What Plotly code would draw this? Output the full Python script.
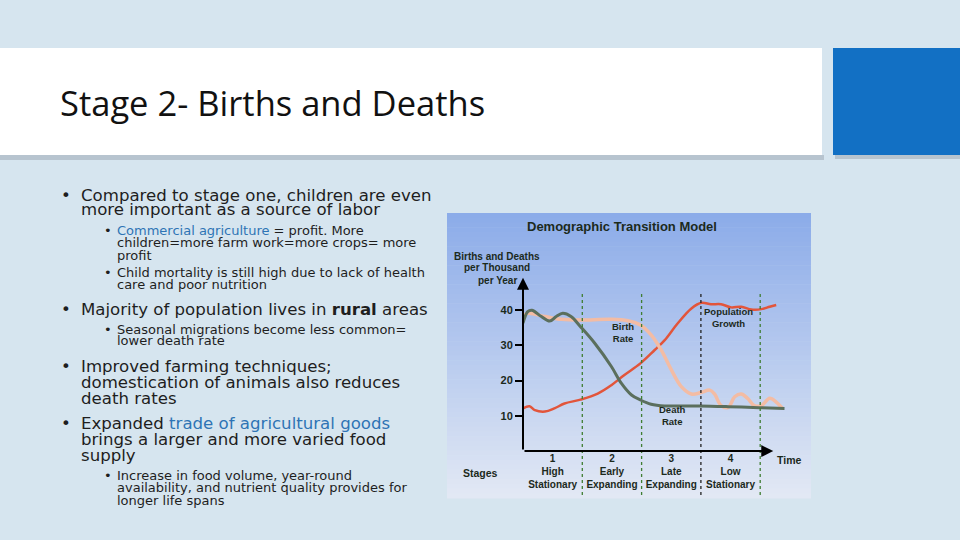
import plotly.graph_objects as go

# --- chart data ---
# x = time in "stage widths" (0 = y-axis, 1..4 = stage dividers)
death_t = [0, 0.08, 0.15, 0.31, 0.45, 0.56, 0.67, 0.81, 0.97, 1.21, 1.49, 1.66, 1.83, 1.98,
           2.16, 2.39, 2.61, 2.98, 3.46, 3.98, 4.41]
death_v = [36.3, 39.6, 40.0, 38.2, 36.9, 38.2, 39.1, 38.2, 35.3, 30.6, 24.0, 19.2, 15.9, 14.5,
           13.3, 12.8, 12.8, 12.8, 12.6, 12.3, 12.1]

birth_t = [0, 0.08, 0.37, 0.65, 0.97, 1.49, 1.77, 1.98, 2.16, 2.33, 2.5, 2.67, 2.84, 3.0,
           3.15, 3.23, 3.34, 3.46, 3.57, 3.68, 3.79, 3.9, 4.02, 4.16, 4.27, 4.38]
birth_v = [38.3, 39.1, 38.2, 37.4, 37.2, 37.4, 37.0, 35.8, 33.0, 28.7, 23.1, 18.3, 16.2, 16.6,
           17.3, 16.2, 12.9, 12.4, 15.4, 16.2, 14.9, 12.9, 12.9, 15.0, 13.9, 12.0]

pop_t = [0, 0.11, 0.2, 0.37, 0.53, 0.7, 0.97, 1.26, 1.49, 1.71, 1.98, 2.22, 2.39, 2.61,
         2.84, 3.01, 3.17, 3.34, 3.51, 3.68, 3.85, 4.02, 4.16, 4.27]
pop_v = [12.1, 12.7, 11.6, 11.2, 12.1, 13.5, 14.6, 16.3, 18.7, 21.6, 24.9, 28.7, 31.5, 36.3,
         40.5, 42.1, 41.7, 41.7, 40.8, 41.0, 40.2, 40.3, 41.0, 41.5]

stage_pos = [0.5, 1.5, 2.5, 3.5]
stage_labels = ["1<br>High<br>Stationary", "2<br>Early<br>Expanding",
                "3<br>Late<br>Expanding", "4<br>Low<br>Stationary"]
stage_edges = [1, 2, 3, 4]
y_ticks = [10, 20, 30, 40]


def px(x):
    return x / 960


def py(y):
    return 1 - y / 540


DARK = "#1c2a1c"
TXT = "#1e1e1e"
BLUE_TXT = "#2e74b5"

fig = go.Figure()

fig.add_trace(go.Scatter(x=pop_t, y=pop_v, mode="lines", line=dict(color="#e2553b", width=2.5, shape="spline")))
fig.add_trace(go.Scatter(x=birth_t, y=birth_v, mode="lines", line=dict(color="#f3bca4", width=3.5, shape="spline")))
fig.add_trace(go.Scatter(x=death_t, y=death_v, mode="lines", line=dict(color="#5b6f5d", width=3, shape="spline")))

shapes = []
# title band + shadow, blue block
shapes.append(dict(type="rect", xref="paper", yref="paper", x0=px(0), x1=px(824), y0=py(160), y1=py(155),
                   fillcolor="rgba(90,100,110,0.25)", line_width=0, layer="below"))
shapes.append(dict(type="rect", xref="paper", yref="paper", x0=px(0), x1=px(822), y0=py(155), y1=py(48),
                   fillcolor="white", line_width=0, layer="below"))
shapes.append(dict(type="rect", xref="paper", yref="paper", x0=px(835), x1=px(960), y0=py(159), y1=py(155),
                   fillcolor="rgba(90,100,110,0.25)", line_width=0, layer="below"))
shapes.append(dict(type="rect", xref="paper", yref="paper", x0=px(833), x1=px(960), y0=py(155), y1=py(48),
                   fillcolor="#1270c4", line_width=0, layer="below"))

# gradient background of the chart picture
n = 60
top, bot = (140, 172, 233), (226, 232, 244)
y_top, y_bot = 213, 498
for i in range(n):
    f = i / (n - 1)
    c = tuple(round(top[k] + (bot[k] - top[k]) * f) for k in range(3))
    ya = y_top + (y_bot - y_top) * i / n
    yb = y_top + (y_bot - y_top) * (i + 1) / n
    shapes.append(dict(type="rect", xref="paper", yref="paper", x0=px(447), x1=px(811),
                       y0=py(yb + 0.5), y1=py(ya), fillcolor="rgb(%d,%d,%d)" % c, line_width=0, layer="below"))

# stage dividers
for e in stage_edges:
    col = "#222222" if e == 3 else "#3f7d32"
    shapes.append(dict(type="line", xref="x", yref="paper", x0=e, x1=e, y0=py(495), y1=py(292),
                       line=dict(color=col, width=1.3, dash="dot")))

ann = []
# axis arrows
ann.append(dict(x=4.22, y=0, ax=0, ay=0, xref="x", yref="y", axref="x", ayref="y", showarrow=True,
                arrowhead=2, arrowsize=1.2, arrowwidth=2, arrowcolor="black", text=""))
ann.append(dict(x=0, y=49.2, ax=0, ay=0, xref="x", yref="y", axref="x", ayref="y", showarrow=True,
                arrowhead=2, arrowsize=1.2, arrowwidth=2, arrowcolor="black", text=""))

cf = "Liberation Sans"


def ctext(x, y, t, size=10, xref="paper", yref="paper", xanchor="center"):
    ann.append(dict(x=x, y=y, xref=xref, yref=yref, text="<b>%s</b>" % t, showarrow=False,
                    xanchor=xanchor, yanchor="middle", font=dict(family=cf, size=size, color=DARK)))


ctext(px(622), py(226), "Demographic Transition Model", size=13)
ctext(px(497), py(257), "Births and Deaths", size=10)
ctext(px(497), py(268), "per Thousand", size=10)
ctext(px(497), py(280), "per Year", size=10)
ctext(px(480), py(473), "Stages", size=10.5)
ctext(px(789), py(460), "Time", size=10.5)
ctext(3.46, 37.8, "Population<br>Growth", size=9.5, xref="x", yref="y")
ctext(1.69, 33.8, "Birth<br>Rate", size=9.5, xref="x", yref="y")
ctext(2.52, 10.0, "Death<br>Rate", size=9.5, xref="x", yref="y")

# slide title
ann.append(dict(x=px(58), y=py(102), xref="paper", yref="paper", text="Stage 2- Births and Deaths",
                showarrow=False, xanchor="left", yanchor="middle",
                font=dict(family="Open Sans", size=34.5, color="#111111")))

# bullet text, one annotation per line
body = "DejaVu Sans"
lines = [
    # (bullet?, level, y, text)
    (True, 1, 195, "Compared to stage one, children are even"),
    (False, 1, 210, "more important as a source of labor"),
    (True, 2, 230, "<span style='color:%s'>Commercial agriculture</span> = profit. More" % BLUE_TXT),
    (False, 2, 242, "children=more farm work=more crops= more"),
    (False, 2, 255, "profit"),
    (True, 2, 272, "Child mortality is still high due to lack of health"),
    (False, 2, 284, "care and poor nutrition"),
    (True, 1, 309, "Majority of population lives in <b>rural</b> areas"),
    (True, 2, 329, "Seasonal migrations become less common="),
    (False, 2, 340, "lower death rate"),
    (True, 1, 366, "Improved farming techniques;"),
    (False, 1, 382, "domestication of animals also reduces"),
    (False, 1, 398, "death rates"),
    (True, 1, 423, "Expanded <span style='color:%s'>trade of agricultural goods</span>" % BLUE_TXT),
    (False, 1, 439, "brings a larger and more varied food"),
    (False, 1, 455, "supply"),
    (True, 2, 475, "Increase in food volume, year-round"),
    (False, 2, 487, "availability, and nutrient quality provides for"),
    (False, 2, 500, "longer life spans"),
]
for bullet, lvl, y, t in lines:
    size = 16.6 if lvl == 1 else 13
    xt = 79 if lvl == 1 else 115
    xb = 59 if lvl == 1 else 102
    ann.append(dict(x=px(xt), y=py(y), xref="paper", yref="paper", text=t, showarrow=False,
                    xanchor="left", yanchor="middle", font=dict(family=body, size=size, color=TXT)))
    if bullet:
        ann.append(dict(x=px(xb), y=py(y), xref="paper", yref="paper", text="•", showarrow=False,
                        xanchor="left", yanchor="middle", font=dict(family=body, size=size, color=TXT)))

x0_px, unit_px = 523, 59.3
xmax = 4.6
y0_px, yunit_px = 451, 3.52
ymax = 50

fig.update_layout(
    width=960, height=540, margin=dict(l=0, r=0, t=0, b=0),
    paper_bgcolor="#d6e5ef", plot_bgcolor="rgba(0,0,0,0)",
    showlegend=False, shapes=shapes, annotations=ann,
    xaxis=dict(domain=[px(x0_px), px(x0_px + xmax * unit_px)], range=[0, xmax],
               showgrid=False, zeroline=False, showline=False,
               tickvals=stage_pos, ticktext=["<b>%s</b>" % s.replace("<br>", "</b><br><b>") for s in stage_labels],
               ticks="", tickfont=dict(family=cf, size=10, color=DARK)),
    yaxis=dict(domain=[py(y0_px), py(y0_px - ymax * yunit_px)], range=[0, ymax],
               showgrid=False, zeroline=False, showline=False,
               tickvals=y_ticks, ticktext=["<b>%d</b>" % v for v in y_ticks],
               ticks="outside", ticklen=7, tickwidth=1.5, tickcolor="black",
               tickfont=dict(family=cf, size=11, color=DARK)),
)

fig.write_html("out.html", config={"displayModeBar": False},
               post_script="document.body.style.margin='0px';")
